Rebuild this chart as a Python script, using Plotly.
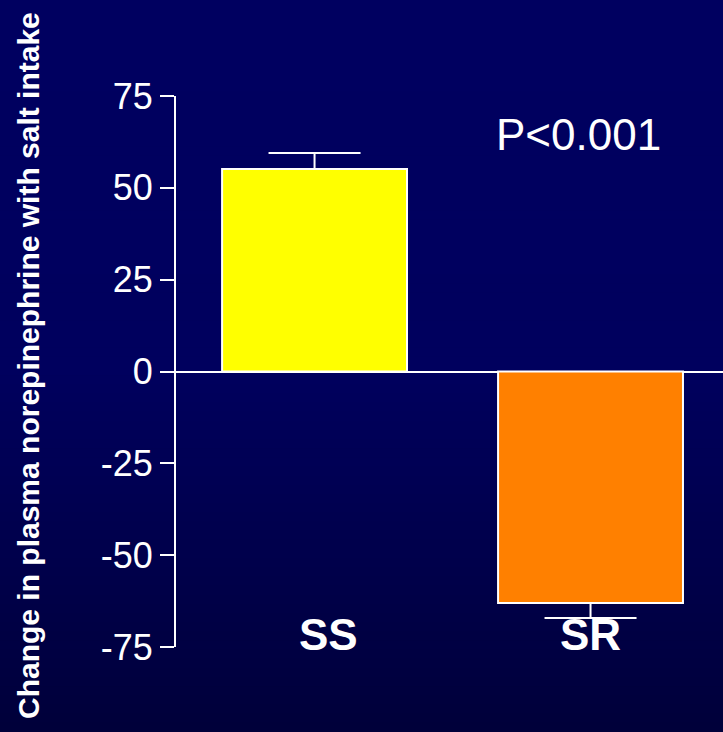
import plotly.graph_objects as go

categories = ["SS", "SR"]
values = [55.1, -63.0]
err_plus = [4.4, 0]
err_minus = [0, 4.1]
bar_colors = ["#FFFF00", "#FF8000"]
tick_vals = [-75, -50, -25, 0, 25, 50, 75]
tick_labels = ["-75", "-50", "-25", "0", "25", "50", "75"]
p_text = "P<0.001"
y_title = "Change in plasma norepinephrine with salt intake"

W, H = 723, 732
L, R, T, B = 176, 0, 96, 85
pw, ph = W - L - R, H - T - B

fig = go.Figure()
fig.add_trace(go.Bar(
    x=[0, 1], y=values, width=0.67,
    marker=dict(color=bar_colors, line=dict(color="white", width=2)),
    error_y=dict(type="data", symmetric=False, array=err_plus, arrayminus=err_minus,
                 color="white", thickness=2, width=46),
    showlegend=False, hoverinfo="skip",
))

# gradient background bands
def lerp(a, b, t):
    return tuple(a[i] + (b[i] - a[i]) * t for i in range(3))

stops = [(0.0, (0, 0, 96)), (0.5, (0, 0, 94)), (1.0, (0, 0, 58))]
shapes = []
n = 80
for i in range(n):
    f0, f1 = i / n, (i + 1) / n
    fm = (f0 + f1) / 2
    for j in range(len(stops) - 1):
        if stops[j][0] <= fm <= stops[j + 1][0]:
            t = (fm - stops[j][0]) / (stops[j + 1][0] - stops[j][0])
            c = lerp(stops[j][1], stops[j + 1][1], t)
            break
    py0, py1 = f0 * H, f1 * H + 1
    shapes.append(dict(type="rect", xref="paper", yref="paper",
                       x0=(0 - L) / pw, x1=(W - L) / pw + 0.01,
                       y0=(H - B - py1) / ph, y1=(H - B - py0) / ph,
                       fillcolor="rgb(%d,%d,%d)" % tuple(int(round(v)) for v in c),
                       line=dict(width=0), layer="below"))

label_x = [0.049, 1.0]
annotations = [
    dict(x=label_x[i], y=-71.7, xref="x", yref="y", text="<b>%s</b>" % c, showarrow=False,
         font=dict(size=44, color="white", family="Liberation Sans, Arial"))
    for i, c in enumerate(categories)
]
annotations.append(dict(x=0.955, y=64.4, xref="x", yref="y", text=p_text, showarrow=False,
                        font=dict(size=44, color="white", family="Liberation Sans, Arial")))
annotations.append(dict(x=(28 - L) / pw, y=(H - B - 366) / ph, xref="paper", yref="paper",
                        text="<b>%s</b>" % y_title, textangle=-90, showarrow=False,
                        xanchor="center", yanchor="middle",
                        font=dict(size=30, color="white", family="Liberation Sans, Arial")))

fig.update_layout(
    width=W, height=H,
    margin=dict(l=L, r=R, t=T, b=B, pad=0),
    paper_bgcolor="rgb(0,0,90)", plot_bgcolor="rgba(0,0,0,0)",
    shapes=shapes, annotations=annotations,
    font=dict(family="Liberation Sans, Arial", color="white"),
    xaxis=dict(range=[-0.502, 1.48], showticklabels=False, showgrid=False,
               zeroline=False, showline=False, ticks=""),
    yaxis=dict(range=[-75, 75], tickvals=tick_vals, ticktext=tick_labels,
               ticks="outside", ticklen=14,
               tickwidth=2, tickcolor="white", showline=True, linecolor="white",
               linewidth=2, showgrid=False, zeroline=True, zerolinecolor="white",
               zerolinewidth=2, tickfont=dict(size=36, color="white",
                                              family="Liberation Sans, Arial")),
)

fig.write_html("out.html", config={"displayModeBar": False},
               post_script="document.body.style.margin='0';document.body.style.overflow='hidden';")
